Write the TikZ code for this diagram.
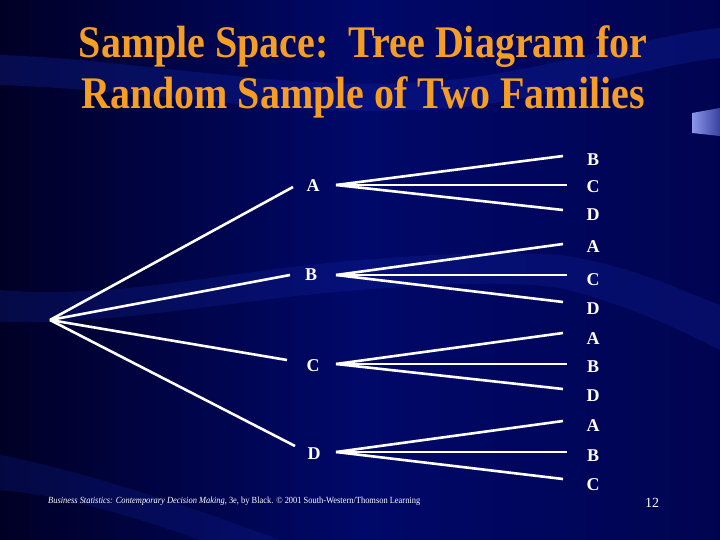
\documentclass[tikz,border=0pt]{standalone}
\usepackage{fontspec}
\setmainfont{Liberation Serif}
\definecolor{bgdark}{RGB}{0,0,38}
\definecolor{bgmid}{RGB}{0,8,105}
\definecolor{bgright}{RGB}{0,4,80}
\definecolor{band}{RGB}{20,40,170}
\definecolor{titleorange}{RGB}{246,158,36}
\definecolor{tabblue}{RGB}{140,150,235}
\tikzset{
  branch/.style={draw=white, line width=2.6pt},
  lbl/.style={text=white, font=\fontsize{18}{18}\selectfont\bfseries, inner sep=0pt},
  ttl/.style={text=titleorange, font=\fontsize{40}{40}\selectfont\bfseries, inner sep=0pt}
}
\begin{document}
\begin{tikzpicture}[x=1pt,y=-1pt]
\useasboundingbox (0,0) rectangle (720,540);
% background
\shade[left color=bgdark, right color=bgright, middle color=bgmid] (0,0) rectangle (720,540);
\fill[band, opacity=0.3] (0,55) .. controls (150,60) and (300,95) .. (450,80) .. controls (550,70) and (650,35) .. (720,28) -- (720,58) .. controls (650,65) and (550,100) .. (450,108) .. controls (300,120) and (150,90) .. (0,85) -- cycle;
\fill[band, opacity=0.25] (0,290) .. controls (120,300) and (230,270) .. (360,260) .. controls (460,252) and (520,252) .. (560,255) .. controls (630,265) and (680,290) .. (720,305) -- (720,350) .. controls (680,330) and (630,305) .. (560,288) .. controls (520,282) and (460,282) .. (360,290) .. controls (230,300) and (120,325) .. (0,322) -- cycle;
\fill[band, opacity=0.22] (0,455) .. controls (80,470) and (200,510) .. (280,540) -- (200,540) .. controls (130,515) and (60,495) .. (0,490) -- cycle;
% small tab at right
\shade[left color=tabblue, right color=bgmid!60!tabblue] (692,113) -- (720,108) -- (720,136) -- (692,133) -- cycle;
% title
\node[ttl] (t1) at (363,47) {\scalebox{1}[1.13]{Sample Space:\ \ Tree Diagram for}};
\node[ttl] (t2) at (363,97) {\scalebox{1}[1.13]{Random Sample of Two Families}};
% root
\coordinate (root) at (50,320);
% first level
\coordinate (aE) at (293,187);
\coordinate (bE) at (290,275);
\coordinate (cE) at (287,360);
\coordinate (dE) at (295,446);
\node[lbl] (A) at (313,186) {A};
\node[lbl] (B) at (311,275) {B};
\node[lbl] (C) at (313,366) {C};
\node[lbl] (D) at (314,454) {D};
\draw[branch] (root) -- (aE);
\draw[branch] (root) -- (bE);
\draw[branch] (root) -- (cE);
\draw[branch] (root) -- (dE);
% second level origins
\coordinate (aO) at (336,185);
\coordinate (bO) at (336,275);
\coordinate (cO) at (336,364);
\coordinate (dO) at (336,452);
% second level ends
\coordinate (aB) at (563,156);
\coordinate (aC) at (567,185);
\coordinate (aD) at (563,210);
\coordinate (bA) at (563,244);
\coordinate (bC) at (567,275);
\coordinate (bD) at (563,302);
\coordinate (cA) at (563,333);
\coordinate (cB) at (567,364);
\coordinate (cD) at (563,389);
\coordinate (dA) at (563,421);
\coordinate (dB) at (567,452);
\coordinate (dC) at (563,479);
\foreach \o/\e in {aO/aB,aO/aC,aO/aD,bO/bA,bO/bC,bO/bD,cO/cA,cO/cB,cO/cD,dO/dA,dO/dB,dO/dC}
  \draw[branch] (\o) -- (\e);
% second level labels
\node[lbl] (laB) at (593,160) {B};
\node[lbl] (laC) at (593,187) {C};
\node[lbl] (laD) at (593,215) {D};
\node[lbl] (lbA) at (593,247) {A};
\node[lbl] (lbC) at (593,280) {C};
\node[lbl] (lbD) at (593,309) {D};
\node[lbl] (lcA) at (593,339) {A};
\node[lbl] (lcB) at (593,367) {B};
\node[lbl] (lcD) at (593,396) {D};
\node[lbl] (ldA) at (593,426) {A};
\node[lbl] (ldB) at (593,456) {B};
\node[lbl] (ldC) at (593,485) {C};
% footer
\node[text=white, inner sep=0pt, anchor=west] (foot) at (48,501) {\resizebox{372pt}{6.5pt}{\textit{Business Statistics: Contemporary Decision Making}, 3e, by Black. \textcopyright\ 2001 South-Western/Thomson Learning}};
\node[text=white, inner sep=0pt, font=\fontsize{14}{14}\selectfont] (pg) at (652,503) {12};
\end{tikzpicture}
\end{document}
